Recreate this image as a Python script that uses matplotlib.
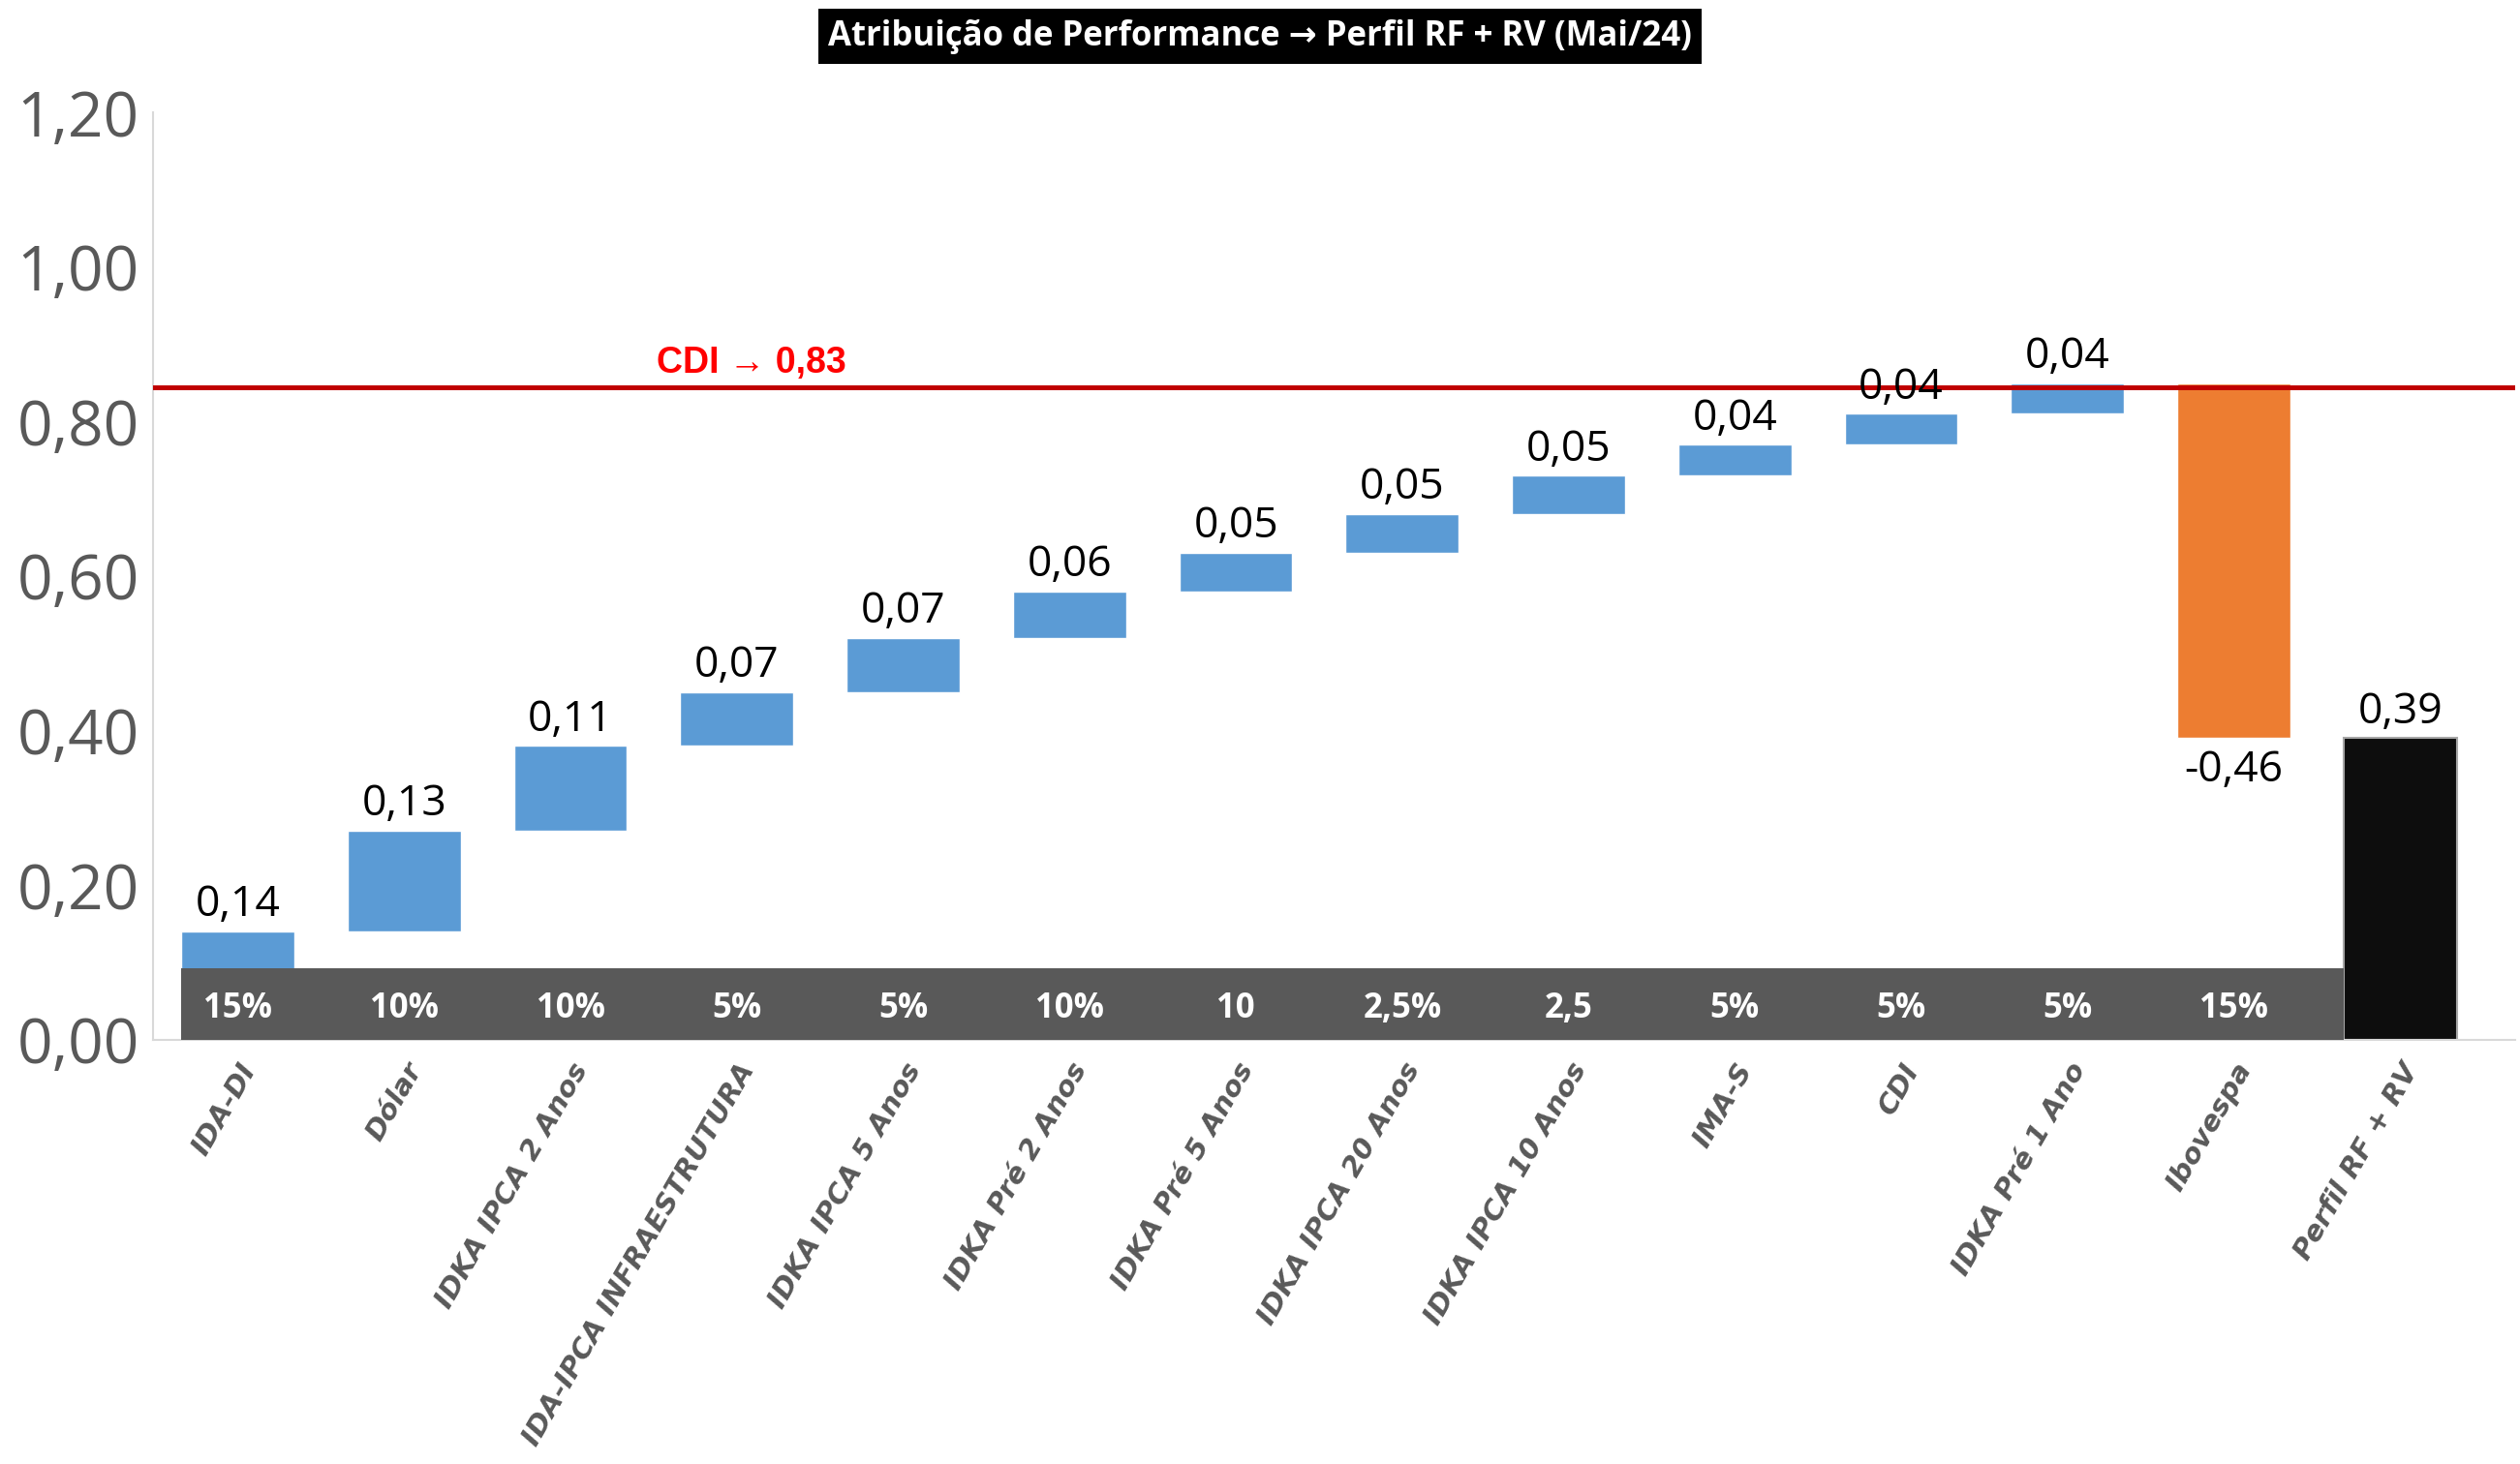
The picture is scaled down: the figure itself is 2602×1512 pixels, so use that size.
import matplotlib
matplotlib.use("Agg")
import matplotlib.pyplot as plt
from matplotlib.patches import Rectangle
import numpy as np

categories = ["IDA-DI", "Dólar", "IDKA IPCA 2 Anos", "IDA-IPCA INFRAESTRUTURA",
              "IDKA IPCA 5 Anos", "IDKA Pré 2 Anos", "IDKA Pré 5 Anos",
              "IDKA IPCA 20 Anos", "IDKA IPCA 10 Anos", "IMA-S", "CDI",
              "IDKA Pré 1 Ano", "Ibovespa", "Perfil RF + RV"]
contrib = [0.14, 0.13, 0.11, 0.07, 0.07, 0.06, 0.05, 0.05, 0.05, 0.04, 0.04, 0.04, -0.46]
total = 0.39
weights = ["15%", "10%", "10%", "5%", "5%", "10%", "10", "2,5%", "2,5", "5%", "5%", "5%", "15%"]
value_labels = ["0,14", "0,13", "0,11", "0,07", "0,07", "0,06", "0,05", "0,05", "0,05",
                "0,04", "0,04", "0,04", "-0,46", "0,39"]
cdi_line = 0.845
cdi_text = "CDI \u2192 0,83"
band_height = 0.092
yticks = [0.0, 0.2, 0.4, 0.6, 0.8, 1.0, 1.2]
ytick_labels = ["0,00", "0,20", "0,40", "0,60", "0,80", "1,00", "1,20"]
title = "Atribuição de Performance \u2192 Perfil RF + RV (Mai/24)"

BLUE = "#5B9BD5"
ORANGE = "#ED7D31"
BLACK = "#0D0D0D"
GREY = "#595959"
RED_LINE = "#C00000"

fig = plt.figure(figsize=(26.02, 15.12), dpi=100)
ax = fig.add_axes([0.0606, 0.290, 0.9374, 0.633])

x = np.arange(len(categories))
w = 0.68
cum = np.concatenate([[0], np.cumsum(contrib)])
starts = cum[:-1]
bottoms = np.where(np.array(contrib) >= 0, starts, starts + np.array(contrib))
heights = np.abs(contrib)
colors = [BLUE if c >= 0 else ORANGE for c in contrib]

ax.bar(x[:-1], heights, bottom=bottoms, width=w, color=colors, edgecolor="white",
       linewidth=1.0, zorder=2)
ax.bar(x[-1], total, width=w, color=BLACK, edgecolor="#A6A6A6", linewidth=1.5, zorder=2)

# grey band with weights
ax.add_patch(Rectangle((x[0] - w / 2, 0), (x[-1] - w / 2) - (x[0] - w / 2), band_height,
                       facecolor=GREY, edgecolor="none", zorder=3))
for xi, wt in zip(x[:-1], weights):
    ax.text(xi, band_height * 0.43, wt, ha="center", va="center", color="white",
            fontsize=25, fontweight="bold", family=["Open Sans", "DejaVu Sans"], zorder=4)

# value labels
for i, (xi, c) in enumerate(zip(x[:-1], contrib)):
    if c >= 0:
        ax.text(xi, cum[i + 1] + 0.006, value_labels[i], ha="center", va="bottom",
                fontsize=32, family=["Open Sans", "DejaVu Sans"], color="black", zorder=5)
    else:
        ax.text(xi, cum[i + 1] - 0.014, value_labels[i], ha="center", va="top",
                fontsize=32, family=["Open Sans", "DejaVu Sans"], color="black", zorder=5)
ax.text(x[-1], total + 0.006, value_labels[-1], ha="center", va="bottom",
        fontsize=32, family=["Open Sans", "DejaVu Sans"], color="black", zorder=5)

# CDI line
ax.axhline(cdi_line, color=RED_LINE, linewidth=3.6, zorder=4)
ax.text(2.52, cdi_line + 0.008, cdi_text, ha="left", va="bottom", color="#FF0000",
        fontsize=27, fontweight="bold", family=["Liberation Sans", "DejaVu Sans"])

ax.set_xlim(-0.512, 13.69)
ax.set_ylim(0, 1.2)
ax.set_yticks(yticks)
ax.set_yticklabels(ytick_labels, fontsize=46, color=GREY,
                   family=["Open Sans", "DejaVu Sans"])
ax.set_xticks(x)
ax.set_xticklabels(categories, rotation=60, ha="right", rotation_mode="anchor",
                   fontsize=21, fontweight="bold", fontstyle="oblique", color=GREY,
                   family=["DejaVu Sans"])
ax.tick_params(axis="both", length=0)
ax.tick_params(axis="x", pad=14)
ax.tick_params(axis="y", pad=10)
for s in ["top", "right"]:
    ax.spines[s].set_visible(False)
ax.spines["left"].set_color("#D9D9D9")
ax.spines["bottom"].set_color("#D9D9D9")
ax.spines["left"].set_linewidth(1.5)
ax.spines["bottom"].set_linewidth(1.5)

fig.text(0.5, 0.975, title, ha="center", va="center", color="white", fontsize=25,
         fontweight="bold", family=["Open Sans", "DejaVu Sans"],
         bbox=dict(facecolor="black", edgecolor="none", boxstyle="square,pad=0.3"))

fig.savefig("out.png", dpi=100, facecolor="white")
